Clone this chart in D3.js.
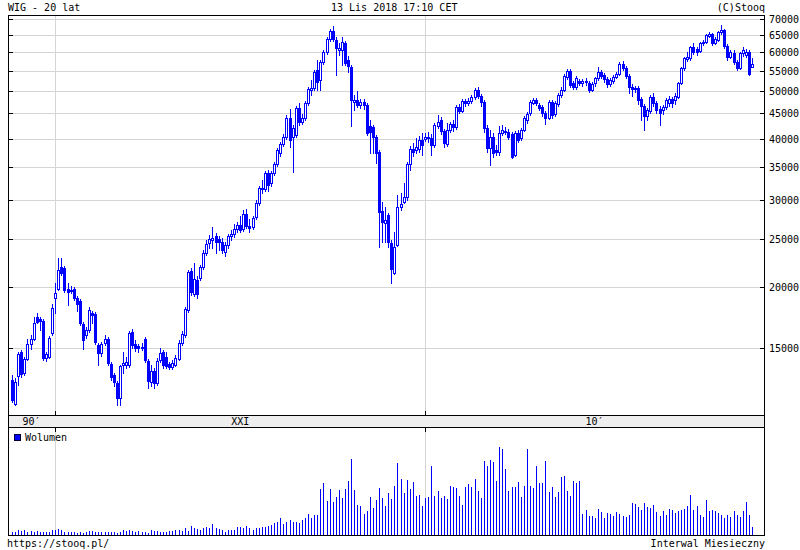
<!DOCTYPE html>
<html><head><meta charset="utf-8">
<script src="https://cdn.jsdelivr.net/npm/d3@7"></script>
<style>
body{margin:0;background:#fff}
text{font-family:"DejaVu Sans Mono",monospace;font-size:10px;fill:#000}
</style>
</head><body>
<svg id="c" width="800" height="550"></svg>
<script>
// ---- data (monthly, Nov 1998 .. Nov 2018) ----
const firstMonth = new Date(1998, 10, 1);
const lastMonth = new Date(2018, 10, 1);
const open = [12910,11540,13160,14720,13340,14250,15280,15650,17340,17180,17020,14310,14380,16090,18960,19770,21920,21810,19770,19590,19770,18960,18690,16780,15940,16320,17670,17590,15210,14650,15360,15650,13920,13220,12730,11870,13850,13850,13850,16170,15280,15140,15000,15650,14120,12790,13470,12730,14180,14720,14380,13920,13720,13850,14250,15360,15940,17920,21510,19320,20620,20820,21920,23400,24520,24870,25340,24990,24640,23510,24300,25340,25580,26190,26680,26190,28090,26560,26430,27700,29570,31580,31580,34030,32480,34030,35500,37380,38980,40280,44030,40280,40660,46140,43210,44030,47230,50200,50670,55120,52600,57220,59970,63730,66160,63440,60530,60530,62550,57770,55900,47450,47900,46790,47450,46790,42410,42220,40280,37550,28490,26930,27960,24520,21310,24300,29030,29720,30420,35500,38080,37900,38080,39720,39910,40090,40090,38800,42410,43620,41430,38980,41620,42810,42220,46350,45500,47680,47230,47680,48580,50200,48800,47450,42010,38260,40280,37900,37550,41040,41230,41230,40850,37030,41040,40090,41620,43620,45070,47230,47900,46790,46350,45070,44030,47450,44860,47010,49040,50200,53350,54860,51870,50900,52360,51870,52110,51870,50200,51870,53100,54600,53850,52850,51630,52360,53350,54100,56690,55640,53600,50900,50430,50670,48130,46570,44440,45500,48580,47230,45920,45710,46350,47230,48130,47900,48580,51870,55640,58040,58310,61390,60820,60250,62550,62840,64640,65250,62550,63440,65860,66480,61680,58580,59690,57220,55640,59690,59130,59970,55900];
const high = [13220,13040,14720,14860,14380,15650,15940,17340,17670,17340,17180,14720,15870,18430,20340,22860,22860,22020,20340,20050,19960,19140,18870,16940,16550,18170,17840,17750,15360,15430,15940,15790,14050,13340,12850,13850,14720,14380,16240,16400,15570,15280,15360,15790,14250,13850,13660,14310,15000,14860,14720,14050,14180,14520,15570,16240,18170,21610,21810,22330,21010,22120,23730,24870,25460,26430,25700,25340,25110,24640,25580,26060,26810,27060,27830,28620,28760,27440,27830,29990,32020,32940,34350,34520,34350,35830,38260,39350,40850,44650,45920,42610,46570,47230,44860,47680,50900,52600,55120,57770,57770,60530,64330,66790,67730,64330,62550,64330,63140,58860,56430,49040,49960,48130,48130,47230,43620,42610,40660,37900,29720,29030,28220,24870,25820,30700,30990,32480,35830,38620,39170,40090,40470,41040,41040,41230,40850,43010,44650,44230,41820,43010,43210,43620,46790,47010,48130,48130,48350,49040,50670,50900,49270,47900,42610,41620,41040,38800,42410,42610,42220,41820,41230,41430,41620,42010,44440,45290,47900,48350,48350,47230,46790,45500,47900,47900,47680,49500,50900,54100,55390,55390,52360,53600,52850,52850,53100,52360,52110,53350,55900,55120,54360,53350,53100,53850,54600,57220,57490,56160,54100,51630,51140,51140,48580,47010,46140,49040,49500,47680,46570,46790,48350,48800,48580,49500,52110,55900,58580,59970,61680,62550,61390,62840,63440,65250,65860,65550,64330,66160,68050,66790,62260,60530,60530,57770,59970,61390,60820,60530,58310];
const low = [11650,11490,12620,13100,13220,14180,14930,15570,16860,16320,14180,14120,14310,15940,17670,19680,21110,19500,18350,19410,18780,17840,16710,14930,15720,16170,16860,15280,13850,14450,15210,13850,12910,12560,11490,11490,13340,13660,13720,15000,14790,14720,14860,14050,12440,12560,12440,12620,14050,13660,13660,13600,13600,13790,14180,15210,15790,17750,19230,19140,18960,20620,21710,23180,23960,23960,23400,23730,23400,23080,23960,24870,25220,25820,25820,25940,26310,25820,26190,27440,29300,30990,31280,31280,32020,33720,35170,36850,38620,39910,38440,34190,40280,42610,42810,43620,46790,49040,50200,50200,50200,56690,59410,63140,63140,53850,59130,56430,56430,54600,42410,45710,46350,46140,45920,40660,37380,37380,35670,24070,24640,24640,24070,20340,21210,24180,28620,29570,29990,34520,36850,37380,37550,37030,39530,39350,37030,38440,42010,40850,38440,38620,41230,41430,41820,45070,45290,46570,46790,47230,48130,48350,46570,41230,37550,35330,36680,37030,37030,40660,40850,39910,36510,36850,39350,39720,41430,43010,44650,47010,46790,45710,44440,42810,43820,44030,44440,46570,48580,49960,52850,50900,50430,50430,51390,51150,51390,49720,49960,51150,52600,53100,52110,50900,51150,51870,53100,53850,55120,53100,49500,48800,49720,47010,43620,41620,43620,45070,46570,45070,42610,44860,45920,46570,46350,47010,48350,51630,55120,57490,57770,59410,59130,59970,61970,62550,64330,61970,62260,63140,65250,61100,57770,58310,56690,55120,55390,58860,58580,53850,55900];
const close = [11760,12790,14590,13280,14250,15280,15650,16860,16940,17020,14310,14590,15720,18090,19410,21610,21310,19680,19500,19680,18960,18430,16860,15570,16320,17920,17510,15430,14650,15280,15650,13980,13100,12790,11870,13790,13980,14050,16090,15210,15000,15000,15070,14180,12850,13470,12730,14120,14650,13850,13790,13720,13980,14310,15360,16020,18010,21410,19500,20720,19320,21920,23400,24410,24990,25110,24640,24640,23730,24300,25340,25580,26190,26680,26060,28090,26560,26310,27570,29570,31730,31730,34030,32180,34030,35500,37900,38980,40280,44030,39720,42010,46140,43210,44030,47230,50430,50670,54600,52110,57220,59970,63730,66160,63730,61100,61100,62840,56950,56160,47900,47900,46790,47450,46790,41040,41230,40280,37380,28350,27060,27310,24640,21710,24070,29030,29440,30420,35500,38080,37550,38440,39720,38800,40280,40280,38800,42610,43210,41430,39170,41620,42810,42220,46350,45500,47680,47230,47680,48580,50200,48800,47450,42010,38260,40280,37380,37550,41040,41620,41430,40280,36680,41040,39720,41620,44030,44860,47450,47900,47230,46140,45070,44030,47450,44650,47230,49040,50200,53600,54860,51390,50900,53100,51870,52360,52360,50200,51630,53100,54600,53600,52850,51630,52600,53350,54100,56690,55640,53600,50900,50430,50670,47900,46570,44440,45710,48580,47230,45710,45070,46350,47900,48130,47230,48800,51870,55640,58310,58580,61390,59970,59970,62550,62840,64940,65250,62550,63730,65860,66480,61680,58580,59970,57220,55640,59690,60530,59970,54100,56690];
const volume = [8,10,14,12,16,8,12,10,12,10,8,10,10,14,16,18,16,10,8,8,10,6,8,6,8,12,12,10,10,10,10,8,10,10,6,10,14,12,14,12,10,12,8,10,6,14,12,12,8,10,8,12,12,14,16,12,20,12,28,20,18,16,20,24,22,34,20,18,14,10,14,16,16,24,24,20,26,20,16,20,22,24,24,28,30,36,38,50,34,40,46,40,40,36,45,52,64,52,60,60,139,156,102,138,99,114,135,111,138,162,228,135,90,87,63,72,114,81,105,141,111,87,126,108,147,216,168,126,165,138,159,118,120,87,111,114,207,117,132,111,117,108,147,144,141,117,90,144,153,144,168,132,111,222,207,225,219,162,264,258,198,132,144,144,159,114,147,258,147,141,207,156,156,222,129,144,114,129,174,177,132,117,162,156,162,63,75,57,57,51,78,69,51,66,63,57,69,63,57,54,60,96,93,84,75,96,84,81,90,69,57,72,60,78,75,66,72,75,78,87,120,75,87,60,54,105,72,75,72,66,60,51,60,54,72,60,54,72,99,60,24];
const priceTicks = [15000,20000,25000,30000,35000,40000,45000,50000,55000,60000,65000,70000];
const decadeMarks = ["2000-01","2010-01"];
const decadeLabels = ["90\u2032","XXI","10\u2032"];
const titleLeft = "WIG - 20 lat", titleMid = "13 Lis 2018 17:10 CET", titleRight = "(C)Stooq";
const footLeft = "https://stooq.pl/", footRight = "Interwal Miesieczny", legendLabel = "Wolumen";

// ---- layout ----
const L = 8, R = 764, T = 15, BAND_T = 415, BAND_B = 427, B = 535;
const BLUE = "#0000ff", GRID = "#d4d4d4";
const fmt = d3.timeFormat("%Y-%m");
const months = d3.timeMonth.range(firstMonth, d3.timeMonth.offset(lastMonth, 1)).map(fmt);
const x = d3.scalePoint().domain(months).range([12, 752]);
const y = d3.scaleLog().domain([15000, 70000]).range([348, 19]);
const vy = d3.scaleLinear().domain([0, 300]).range([B, B - 100]);

const svg = d3.select("#c");
const px = v => Math.round(v) + 0.5;

// horizontal grid
svg.append("g").selectAll("line").data(priceTicks).join("line")
  .attr("x1", L).attr("x2", R).attr("y1", d => px(y(d))).attr("y2", d => px(y(d)))
  .attr("stroke", GRID);
// vertical grid
decadeMarks.forEach(m => {
  const xx = px(x(m));
  svg.append("line").attr("x1", xx).attr("x2", xx).attr("y1", T).attr("y2", BAND_T).attr("stroke", GRID);
  svg.append("line").attr("x1", xx).attr("x2", xx).attr("y1", BAND_B).attr("y2", B).attr("stroke", GRID);
});

// band
svg.append("rect").attr("x", L).attr("y", BAND_T).attr("width", R - L).attr("height", BAND_B - BAND_T).attr("fill", "#eeeeee");

// frame lines
const frame = svg.append("g").attr("stroke", "#000").attr("stroke-width", 1);
[[L, T, R, T], [L, BAND_T, R, BAND_T], [L, BAND_B, R, BAND_B], [L, B, R, B]].forEach(a =>
  frame.append("line").attr("x1", a[0]).attr("x2", a[2] + 1).attr("y1", a[1] + 0.5).attr("y2", a[3] + 0.5));
[[L, T, B], [R, T, B]].forEach(a =>
  frame.append("line").attr("x1", a[0] + 0.5).attr("x2", a[0] + 0.5).attr("y1", a[1]).attr("y2", a[2] + 1));

// axis ticks
priceTicks.forEach(t => {
  const yy = px(y(t));
  frame.append("line").attr("x1", L).attr("x2", L + 5).attr("y1", yy).attr("y2", yy);
  frame.append("line").attr("x1", R - 4).attr("x2", R + 1).attr("y1", yy).attr("y2", yy);
  svg.append("text").attr("x", R + 5).attr("y", Math.round(y(t)) + 4).text(t);
});
decadeMarks.forEach(m => {
  const xx = px(x(m));
  frame.append("line").attr("x1", xx).attr("x2", xx).attr("y1", BAND_T - 4).attr("y2", BAND_T);
  frame.append("line").attr("x1", xx).attr("x2", xx).attr("y1", BAND_B).attr("y2", BAND_B + 5);
});
// decade labels centred in segments
const edges = [L, x(decadeMarks[0]), x(decadeMarks[1]), R];
decadeLabels.forEach((lab, i) => {
  svg.append("text").attr("x", (edges[i] + edges[i + 1]) / 2).attr("y", 425)
    .attr("text-anchor", "middle").text(lab);
});

// candles
const cg = svg.append("g");
months.forEach((m, i) => {
  const c = Math.round(x(m));
  const yo = Math.round(y(open[i])), yc = Math.round(y(close[i]));
  const yh = Math.round(y(high[i])), yl = Math.round(y(low[i]));
  cg.append("line").attr("x1", c + 0.5).attr("x2", c + 0.5).attr("y1", yh).attr("y2", yl + 1)
    .attr("stroke", BLUE);
  const top = Math.min(yo, yc), bot = Math.max(yo, yc);
  if (close[i] >= open[i]) {
    cg.append("rect").attr("x", c - 0.5).attr("y", top + 0.5).attr("width", 2)
      .attr("height", Math.max(bot - top, 0)).attr("fill", "#fff").attr("stroke", BLUE);
  } else {
    cg.append("rect").attr("x", c - 1).attr("y", top).attr("width", 3)
      .attr("height", Math.max(bot - top + 1, 1)).attr("fill", BLUE);
  }
});

// volume bars
svg.append("g").selectAll("rect").data(months).join("rect")
  .attr("x", d => Math.round(x(d))).attr("width", 1)
  .attr("y", (d, i) => Math.round(vy(volume[i])))
  .attr("height", (d, i) => B - Math.round(vy(volume[i])))
  .attr("fill", BLUE);

// legend
svg.append("rect").attr("x", 14.5).attr("y", 434.5).attr("width", 6).attr("height", 6)
  .attr("fill", BLUE).attr("stroke", "#000033");
svg.append("text").attr("x", 25).attr("y", 441).text(legendLabel);

// header / footer
svg.append("text").attr("x", 8).attr("y", 11).text(titleLeft);
svg.append("text").attr("x", 331).attr("y", 11).text(titleMid);
svg.append("text").attr("x", 765).attr("y", 11).attr("text-anchor", "end").text(titleRight);
svg.append("text").attr("x", 7).attr("y", 547).text(footLeft);
svg.append("text").attr("x", 765).attr("y", 547).attr("text-anchor", "end").text(footRight);
</script>
</body></html>
